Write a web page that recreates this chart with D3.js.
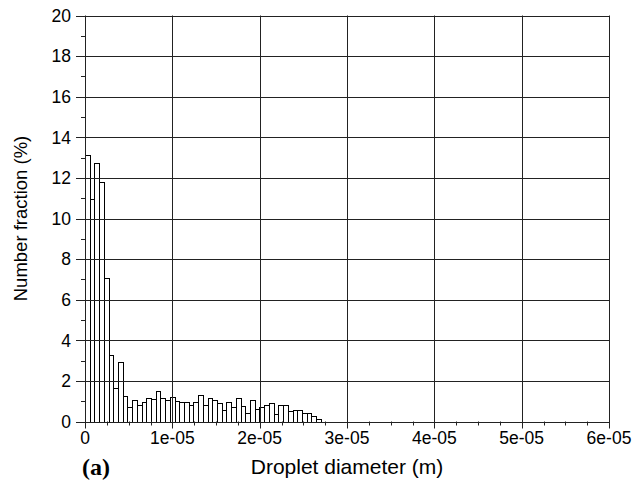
<!DOCTYPE html>
<html>
<head>
<meta charset="utf-8">
<script src="https://cdn.jsdelivr.net/npm/d3@7/dist/d3.min.js"></script>
<style>
  html, body { margin: 0; padding: 0; background: #fff; }
  svg { display: block; }
  text { font-family: "Liberation Sans", Arial, Helvetica, sans-serif; fill: #000; }
  text.panel { font-family: "Liberation Serif", "Times New Roman", serif; font-weight: bold; }
</style>
</head>
<body>
<svg id="chart" width="644" height="489"></svg>
<script>
// Droplet size distribution: number fraction per diameter bin
const binWidth = 0.54e-6; // m
const fractions = [
  13.13, 10.94, 12.71, 11.79, 7.07, 3.30, 1.66, 2.94, 1.28, 0.72,
  1.05, 0.80, 0.97, 1.17, 1.10, 1.51, 1.16, 1.08, 1.21, 1.00,
  0.95, 0.95, 0.80, 0.95, 1.31, 0.80, 1.16, 1.04, 0.89, 0.59,
  0.95, 0.72, 1.16, 0.74, 0.44, 1.08, 0.64, 0.72, 0.81, 0.89,
  0.39, 0.80, 0.80, 0.51, 0.59, 0.59, 0.42, 0.42, 0.26, 0.11
];
const xTicks = [0, 1e-5, 2e-5, 3e-5, 4e-5, 5e-5, 6e-5];
const xTickLabels = ["0", "1e-05", "2e-05", "3e-05", "4e-05", "5e-05", "6e-05"];
const yTicks = [0, 2, 4, 6, 8, 10, 12, 14, 16, 18, 20];
const xMinorTicks = d3.range(0, 24).filter(i => i % 4 !== 0).map(i => i * 0.25e-5);
const yMinorTicks = [1, 3, 5, 7, 9, 11, 13, 15, 17, 19];

const svg = d3.select("#chart");
const plotLeft = 85, plotRight = 609, plotTop = 15.5, plotBottom = 421.5;

const x = d3.scaleLinear().domain([0, 6e-5]).range([plotLeft, plotRight]);
const y = d3.scaleLinear().domain([0, 20]).range([plotBottom, plotTop]);

const bins = fractions.map((v, i) => ({ x0: i * binWidth, x1: (i + 1) * binWidth, v }));

// histogram bars
svg.append("g")
  .selectAll("rect")
  .data(bins)
  .join("rect")
  .attr("x", d => Math.round(x(d.x0)) + 0.5)
  .attr("y", d => Math.round(y(d.v)) + 0.5)
  .attr("width", d => Math.round(x(d.x1)) - Math.round(x(d.x0)))
  .attr("height", d => Math.round(y(0)) - Math.round(y(d.v)))
  .attr("fill", "#fff")
  .attr("stroke", "#000")
  .attr("stroke-width", 1);

const grid = svg.append("g").attr("stroke", "#222").attr("stroke-width", 1);

// horizontal grid lines, each extending left as a major tick
grid.selectAll("line.h")
  .data(yTicks)
  .join("line")
  .attr("class", "h")
  .attr("x1", plotLeft - 9).attr("x2", plotRight)
  .attr("y1", d => Math.round(y(d)) + 0.5).attr("y2", d => Math.round(y(d)) + 0.5);

// vertical grid lines, each extending below as a major tick
grid.selectAll("line.v")
  .data(xTicks)
  .join("line")
  .attr("class", "v")
  .attr("x1", d => Math.round(x(d)) + 0.5).attr("x2", d => Math.round(x(d)) + 0.5)
  .attr("y1", plotTop).attr("y2", plotBottom + 7);

// minor ticks
grid.selectAll("line.ym")
  .data(yMinorTicks)
  .join("line")
  .attr("class", "ym")
  .attr("x1", plotLeft - 4).attr("x2", plotLeft)
  .attr("y1", d => Math.round(y(d)) + 0.5).attr("y2", d => Math.round(y(d)) + 0.5);

grid.selectAll("line.xm")
  .data(xMinorTicks)
  .join("line")
  .attr("class", "xm")
  .attr("x1", d => Math.round(x(d)) + 0.5).attr("x2", d => Math.round(x(d)) + 0.5)
  .attr("y1", plotBottom).attr("y2", plotBottom + 4);

// tick labels
svg.append("g")
  .selectAll("text")
  .data(yTicks)
  .join("text")
  .attr("x", plotLeft - 14)
  .attr("y", d => y(d))
  .attr("dy", "0.36em")
  .attr("text-anchor", "end")
  .attr("font-size", 17.5)
  .text(d => d);

svg.append("g")
  .selectAll("text")
  .data(xTicks)
  .join("text")
  .attr("x", d => x(d))
  .attr("y", plotBottom + 22)
  .attr("text-anchor", "middle")
  .attr("font-size", 17.5)
  .text((d, i) => xTickLabels[i]);

// axis titles
svg.append("text")
  .attr("transform", `translate(27,${(plotTop + plotBottom) / 2}) rotate(-90)`)
  .attr("text-anchor", "middle")
  .attr("font-size", 18.5)
  .text("Number fraction (%)");

svg.append("text")
  .attr("x", (plotLeft + plotRight) / 2)
  .attr("y", 474)
  .attr("text-anchor", "middle")
  .attr("font-size", 21)
  .text("Droplet diameter (m)");

// panel label
svg.append("text")
  .attr("class", "panel")
  .attr("x", 82)
  .attr("y", 475)
  .attr("font-size", 24)
  .text("(a)");
</script>
</body>
</html>
